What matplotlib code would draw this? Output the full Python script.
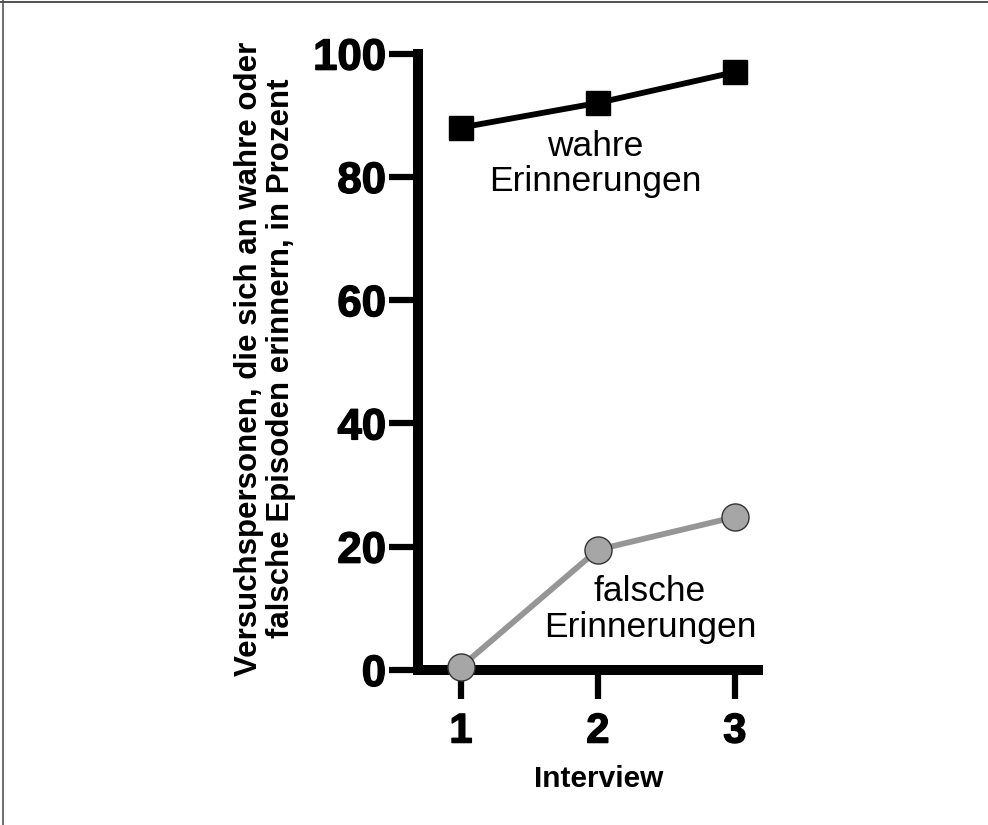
import matplotlib
matplotlib.use("Agg")
import matplotlib.pyplot as plt
import matplotlib.patheffects as pe
from matplotlib.lines import Line2D

plt.rcParams['font.family'] = ['Liberation Sans', 'DejaVu Sans']

# data
interviews = [1, 2, 3]
wahre = [88, 92, 97]
falsche = [0.5, 19.5, 24.8]
y_ticks = [0, 20, 40, 60, 80, 100]

fig = plt.figure(figsize=(9.88, 8.25), dpi=100)
ax = fig.add_axes([0.423, 0.188, 0.344, 0.747])

ax.plot(interviews, wahre, color='black', lw=4.2, marker='s', ms=17,
        markerfacecolor='black', markeredgecolor='black', zorder=3, clip_on=False)
ax.plot(interviews, falsche, color='#969696', lw=4.2, marker='o', ms=19.5,
        markerfacecolor='#a6a6a6', markeredgecolor='#333333', markeredgewidth=1.0,
        zorder=4, clip_on=False)

ax.text(1.98, 82.1, 'wahre\nErinnerungen', ha='center', va='center',
        fontsize=25.5, multialignment='center', linespacing=1.1)
ax.text(2.38, 9.8, 'falsche\nErinnerungen', ha='center', va='center',
        fontsize=25.5, multialignment='center', linespacing=1.1)

ax.set_xlim(0.686, 3.168)
ax.set_ylim(0, 100)
ax.set_xticks(interviews)
ax.set_yticks(y_ticks)
thick = [pe.withStroke(linewidth=1.0, foreground='black')]
ax.set_xticklabels([str(i) for i in interviews], fontsize=30, fontweight='bold')
ax.set_yticklabels([str(t) for t in y_ticks], fontsize=31.5, fontweight='bold')
for lab in ax.get_xticklabels() + ax.get_yticklabels():
    lab.set_path_effects(thick)

for side in ['top', 'right']:
    ax.spines[side].set_visible(False)
for side in ['left', 'bottom']:
    ax.spines[side].set_linewidth(7.2)
    ax.spines[side].set_capstyle('projecting')

ax.tick_params(axis='both', direction='out', length=21, width=4.5, color='black')
ax.tick_params(axis='y', pad=2)
ax.tick_params(axis='x', pad=9)

ax.set_xlabel('Interview', fontsize=21.5, fontweight='bold')
ax.xaxis.set_label_coords(0.532, -0.155)
ax.set_ylabel('Versuchspersonen, die sich an wahre oder\nfalsche Episoden erinnern, in Prozent',
              fontsize=22.5, fontweight='bold', multialignment='center', linespacing=1.05)
ax.yaxis.set_label_coords(-0.45, 0.505)
ax.yaxis.label.set_va('center')

# thin frame lines at top and left of the image
fig.add_artist(Line2D([0, 1], [0.9975, 0.9975], transform=fig.transFigure, color='#333333', lw=1.2))
fig.add_artist(Line2D([0.0035, 0.0035], [0, 1], transform=fig.transFigure, color='#555555', lw=1.2))

fig.savefig('out.png', dpi=100)
